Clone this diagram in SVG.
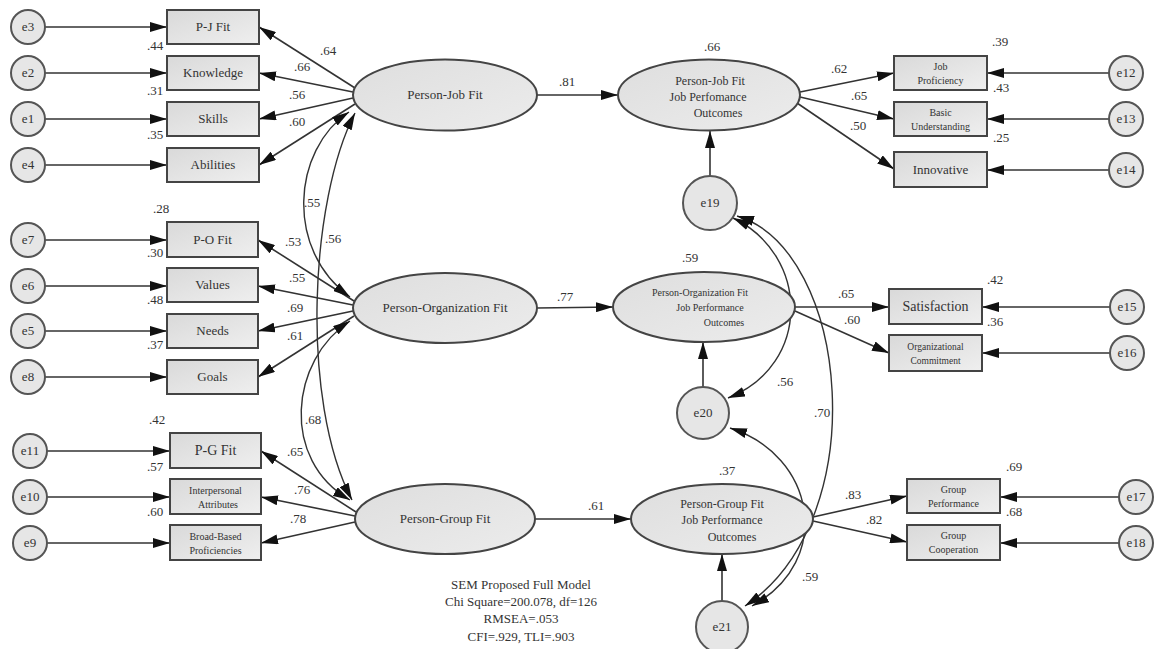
<svg xmlns="http://www.w3.org/2000/svg" width="1158" height="649" viewBox="0 0 1158 649">
  <defs>
    <linearGradient id="fillBox" x1="0" y1="0" x2="1" y2="1">
      <stop offset="0" stop-color="#d9d9d9"/>
      <stop offset="1" stop-color="#efefef"/>
    </linearGradient>
    <linearGradient id="fillEll" x1="0" y1="0" x2="1" y2="1">
      <stop offset="0" stop-color="#dedede"/>
      <stop offset="1" stop-color="#ececec"/>
    </linearGradient>
    <marker id="ah" viewBox="0 0 17 10" refX="17" refY="5" markerWidth="17" markerHeight="10" markerUnits="userSpaceOnUse" orient="auto-start-reverse">
      <path d="M0,0 L17,5 L0,10 z" fill="#111"/>
    </marker>
    <style>
      .box { fill: url(#fillBox); stroke: #444; stroke-width: 2; }
      .lat { fill: url(#fillEll); stroke: #444; stroke-width: 2; }
      .err { fill: #e6e6e6; stroke: #555; stroke-width: 2; }
      .t { font-family: "Liberation Serif", "Times New Roman", serif; fill: #333; text-anchor: middle; }
      .lb { font-size: 13px; }
      .sm { font-size: 10px; }
      .xs { font-size: 9.5px; }
      .nm { font-family: "Liberation Serif", "Times New Roman", serif; fill: #333; font-size: 13px; text-anchor: middle; }
      .ln { fill: none; stroke: #333; stroke-width: 1.6; marker-end: url(#ah); }
      .cv { fill: none; stroke: #333; stroke-width: 1.4; marker-start: url(#ah); marker-end: url(#ah); }
    </style>
  </defs>

  <rect width="1158" height="649" fill="#ffffff"/>

  <!-- connectors -->
  <g id="connectors">
    <!-- error terms to indicators, left -->
    <line class="ln" x1="45" y1="27" x2="167" y2="27"/>
    <line class="ln" x1="45" y1="73" x2="167" y2="73"/>
    <line class="ln" x1="45" y1="119" x2="167" y2="119"/>
    <line class="ln" x1="45" y1="165" x2="167" y2="165"/>
    <line class="ln" x1="45" y1="240" x2="167" y2="240"/>
    <line class="ln" x1="45" y1="286" x2="167" y2="286"/>
    <line class="ln" x1="45" y1="331" x2="167" y2="331"/>
    <line class="ln" x1="45" y1="377" x2="167" y2="377"/>
    <line class="ln" x1="47" y1="451" x2="170" y2="451"/>
    <line class="ln" x1="47" y1="497" x2="170" y2="497"/>
    <line class="ln" x1="47" y1="543" x2="170" y2="543"/>

    <!-- latent fits to indicators -->
    <line class="ln" x1="355" y1="88" x2="259" y2="27"/>
    <line class="ln" x1="353" y1="92" x2="259" y2="73"/>
    <line class="ln" x1="353" y1="98" x2="259" y2="119"/>
    <line class="ln" x1="355" y1="104" x2="259" y2="165"/>
    <line class="ln" x1="354" y1="301" x2="258" y2="240"/>
    <line class="ln" x1="353" y1="305" x2="258" y2="286"/>
    <line class="ln" x1="353" y1="311" x2="258" y2="331"/>
    <line class="ln" x1="354" y1="316" x2="258" y2="377"/>
    <line class="ln" x1="356" y1="512" x2="261" y2="451"/>
    <line class="ln" x1="355" y1="516" x2="261" y2="497"/>
    <line class="ln" x1="355" y1="522" x2="261" y2="543"/>

    <!-- covariances among fits -->
    <path class="cv" d="M350,297 C285,250 292,150 349,112"/>
    <path class="cv" d="M352,500 C300,400 310,200 355,113"/>
    <path class="cv" d="M350,321 C290,360 280,460 350,500"/>

    <!-- structural paths -->
    <line class="ln" x1="537" y1="95" x2="618" y2="95"/>
    <line class="ln" x1="537" y1="308" x2="613" y2="307"/>
    <line class="ln" x1="535" y1="519" x2="631" y2="519"/>
    <line class="ln" x1="710" y1="176" x2="710" y2="131"/>
    <line class="ln" x1="703" y1="387" x2="703" y2="342"/>
    <line class="ln" x1="722" y1="601" x2="722" y2="554"/>

    <!-- outcomes to indicators -->
    <line class="ln" x1="800" y1="92" x2="894" y2="73"/>
    <line class="ln" x1="800" y1="97" x2="894" y2="119"/>
    <line class="ln" x1="797" y1="103" x2="894" y2="169"/>
    <line class="ln" x1="795" y1="307" x2="889" y2="307"/>
    <line class="ln" x1="795" y1="311" x2="889" y2="353"/>
    <line class="ln" x1="813" y1="517" x2="907" y2="496"/>
    <line class="ln" x1="813" y1="521" x2="907" y2="542"/>

    <!-- error terms to indicators, right -->
    <line class="ln" x1="1109" y1="73" x2="987" y2="73"/>
    <line class="ln" x1="1109" y1="119" x2="987" y2="119"/>
    <line class="ln" x1="1109" y1="170" x2="987" y2="170"/>
    <line class="ln" x1="1110" y1="307" x2="982" y2="307"/>
    <line class="ln" x1="1110" y1="353" x2="982" y2="353"/>
    <line class="ln" x1="1119" y1="497" x2="1000" y2="497"/>
    <line class="ln" x1="1119" y1="543" x2="1000" y2="543"/>

    <!-- covariances among disturbances -->
    <path class="cv" d="M733,218 C810,255 812,365 728,398"/>
    <path class="cv" d="M737,216 C850,250 875,520 745,606"/>
    <path class="cv" d="M730,428 C815,455 835,560 752,606"/>
  </g>

  <!-- left error terms -->
  <g id="e3"><circle class="err" cx="28" cy="27" r="17"/><text class="t lb" x="28" y="31">e3</text></g>
  <g id="e2"><circle class="err" cx="28" cy="73" r="17"/><text class="t lb" x="28" y="77">e2</text></g>
  <g id="e1"><circle class="err" cx="28" cy="119" r="17"/><text class="t lb" x="28" y="123">e1</text></g>
  <g id="e4"><circle class="err" cx="28" cy="165" r="17"/><text class="t lb" x="28" y="169">e4</text></g>
  <g id="e7"><circle class="err" cx="28" cy="240" r="17"/><text class="t lb" x="28" y="244">e7</text></g>
  <g id="e6"><circle class="err" cx="28" cy="286" r="17"/><text class="t lb" x="28" y="290">e6</text></g>
  <g id="e5"><circle class="err" cx="28" cy="331" r="17"/><text class="t lb" x="28" y="335">e5</text></g>
  <g id="e8"><circle class="err" cx="28" cy="377" r="17"/><text class="t lb" x="28" y="381">e8</text></g>
  <g id="e11"><circle class="err" cx="30" cy="451" r="17"/><text class="t lb" x="30" y="455">e11</text></g>
  <g id="e10"><circle class="err" cx="30" cy="497" r="17"/><text class="t lb" x="30" y="501">e10</text></g>
  <g id="e9"><circle class="err" cx="30" cy="543" r="17"/><text class="t lb" x="30" y="547">e9</text></g>

  <!-- left indicators -->
  <g id="pj-fit-box"><rect class="box" x="167" y="10" width="92" height="34"/><text class="t lb" x="213" y="31">P-J Fit</text></g>
  <g id="knowledge"><rect class="box" x="167" y="56" width="92" height="34"/><text class="t lb" x="213" y="77">Knowledge</text></g>
  <g id="skills"><rect class="box" x="167" y="102" width="92" height="34"/><text class="t lb" x="213" y="123">Skills</text></g>
  <g id="abilities"><rect class="box" x="167" y="148" width="92" height="34"/><text class="t lb" x="213" y="169">Abilities</text></g>
  <g id="po-fit-box"><rect class="box" x="167" y="222" width="91" height="35"/><text class="t lb" x="212.5" y="244">P-O Fit</text></g>
  <g id="values"><rect class="box" x="167" y="268" width="91" height="34"/><text class="t lb" x="212.5" y="289">Values</text></g>
  <g id="needs"><rect class="box" x="167" y="314" width="91" height="34"/><text class="t lb" x="212.5" y="335">Needs</text></g>
  <g id="goals"><rect class="box" x="167" y="360" width="91" height="34"/><text class="t lb" x="212.5" y="381">Goals</text></g>
  <g id="pg-fit-box"><rect class="box" x="170" y="433" width="91" height="35"/><text class="t" style="font-size:14px" x="215.5" y="455">P-G Fit</text></g>
  <g id="interpersonal"><rect class="box" x="170" y="479" width="91" height="35"/><text class="t sm" x="215.5" y="494">Interpersonal</text><text class="t sm" x="218" y="508">Attributes</text></g>
  <g id="broad-based"><rect class="box" x="170" y="525" width="91" height="35"/><text class="t sm" x="215.5" y="540">Broad-Based</text><text class="t sm" x="215.5" y="554">Proficiencies</text></g>

  <!-- latent fits -->
  <g id="person-job-fit"><ellipse class="lat" cx="445" cy="95" rx="92" ry="35.5"/><text class="t lb" x="445" y="99">Person-Job Fit</text></g>
  <g id="person-organization-fit"><ellipse class="lat" cx="445" cy="308" rx="92" ry="35"/><text class="t lb" x="445" y="312">Person-Organization Fit</text></g>
  <g id="person-group-fit"><ellipse class="lat" cx="445" cy="519" rx="90" ry="35"/><text class="t lb" x="445" y="523">Person-Group Fit</text></g>

  <!-- outcome latents -->
  <g id="pj-outcomes"><ellipse class="lat" cx="709" cy="95" rx="91" ry="35.5"/>
    <text class="t" style="font-size:12px" x="710" y="85">Person-Job Fit</text>
    <text class="t" style="font-size:12px" x="708" y="101">Job Perfomance</text>
    <text class="t" style="font-size:12px" x="718" y="117">Outcomes</text></g>
  <g id="po-outcomes"><ellipse class="lat" cx="704" cy="307" rx="91" ry="35"/>
    <text class="t sm" x="700" y="296">Person-Organization Fit</text>
    <text class="t sm" x="710" y="311">Job Performance</text>
    <text class="t sm" x="724" y="326">Outcomes</text></g>
  <g id="pg-outcomes"><ellipse class="lat" cx="722" cy="519" rx="91" ry="35"/>
    <text class="t" style="font-size:12px" x="722" y="508">Person-Group Fit</text>
    <text class="t" style="font-size:12px" x="722" y="524">Job Performance</text>
    <text class="t" style="font-size:12px" x="732" y="541">Outcomes</text></g>

  <!-- disturbances -->
  <g id="e19"><circle class="err" cx="710" cy="203" r="27"/><text class="t lb" x="710" y="207">e19</text></g>
  <g id="e20"><circle class="err" cx="703" cy="413" r="26"/><text class="t lb" x="703" y="417">e20</text></g>
  <g id="e21"><circle class="err" cx="722" cy="627" r="26"/><text class="t lb" x="722" y="631">e21</text></g>

  <!-- right indicators -->
  <g id="job-proficiency"><rect class="box" x="894" y="56" width="93" height="34"/><text class="t sm" x="940.5" y="70">Job</text><text class="t sm" x="940.5" y="84">Proficiency</text></g>
  <g id="basic-understanding"><rect class="box" x="894" y="102" width="93" height="34"/><text class="t sm" x="940.5" y="116">Basic</text><text class="t sm" x="940.5" y="130">Understanding</text></g>
  <g id="innovative"><rect class="box" x="894" y="152" width="93" height="35"/><text class="t lb" x="940.5" y="174">Innovative</text></g>
  <g id="satisfaction"><rect class="box" x="889" y="289" width="93" height="35"/><text class="t" style="font-size:14px" x="935.5" y="311">Satisfaction</text></g>
  <g id="org-commitment"><rect class="box" x="889" y="335" width="93" height="36"/><text class="t xs" x="935.5" y="350">Organizational</text><text class="t xs" x="935.5" y="364">Commitment</text></g>
  <g id="group-performance"><rect class="box" x="907" y="479" width="93" height="34"/><text class="t sm" x="953.5" y="493">Group</text><text class="t sm" x="953.5" y="507">Performance</text></g>
  <g id="group-cooperation"><rect class="box" x="907" y="525" width="93" height="35"/><text class="t sm" x="953.5" y="539">Group</text><text class="t sm" x="953.5" y="553">Cooperation</text></g>

  <!-- right error terms -->
  <g id="e12"><circle class="err" cx="1126" cy="73" r="17"/><text class="t lb" x="1126" y="77">e12</text></g>
  <g id="e13"><circle class="err" cx="1126" cy="119" r="17"/><text class="t lb" x="1126" y="123">e13</text></g>
  <g id="e14"><circle class="err" cx="1126" cy="170" r="17"/><text class="t lb" x="1126" y="174">e14</text></g>
  <g id="e15"><circle class="err" cx="1127" cy="307" r="17"/><text class="t lb" x="1127" y="311">e15</text></g>
  <g id="e16"><circle class="err" cx="1127" cy="353" r="17"/><text class="t lb" x="1127" y="357">e16</text></g>
  <g id="e17"><circle class="err" cx="1136" cy="497" r="17"/><text class="t lb" x="1136" y="501">e17</text></g>
  <g id="e18"><circle class="err" cx="1136" cy="543" r="17"/><text class="t lb" x="1136" y="547">e18</text></g>

  <!-- estimates -->
  <g id="estimates">
    <text class="nm" x="155" y="50">.44</text>
    <text class="nm" x="155" y="95">.31</text>
    <text class="nm" x="155" y="139">.35</text>
    <text class="nm" x="328" y="55">.64</text>
    <text class="nm" x="302" y="71">.66</text>
    <text class="nm" x="297" y="99">.56</text>
    <text class="nm" x="297" y="126">.60</text>

    <text class="nm" x="161" y="213">.28</text>
    <text class="nm" x="155" y="257">.30</text>
    <text class="nm" x="155" y="304">.48</text>
    <text class="nm" x="155" y="349">.37</text>
    <text class="nm" x="293" y="246">.53</text>
    <text class="nm" x="297" y="282">.55</text>
    <text class="nm" x="295" y="312">.69</text>
    <text class="nm" x="295" y="340">.61</text>

    <text class="nm" x="157" y="424">.42</text>
    <text class="nm" x="155" y="471">.57</text>
    <text class="nm" x="155" y="516">.60</text>
    <text class="nm" x="295" y="456">.65</text>
    <text class="nm" x="302" y="494">.76</text>
    <text class="nm" x="298" y="523">.78</text>

    <text class="nm" x="312" y="207">.55</text>
    <text class="nm" x="333" y="243">.56</text>
    <text class="nm" x="313" y="424">.68</text>

    <text class="nm" x="567" y="86">.81</text>
    <text class="nm" x="565" y="301">.77</text>
    <text class="nm" x="596" y="510">.61</text>
    <text class="nm" x="712" y="51">.66</text>
    <text class="nm" x="690" y="262">.59</text>
    <text class="nm" x="727" y="475">.37</text>

    <text class="nm" x="839" y="73">.62</text>
    <text class="nm" x="859" y="100">.65</text>
    <text class="nm" x="858" y="130">.50</text>
    <text class="nm" x="1000" y="46">.39</text>
    <text class="nm" x="1001" y="92">.43</text>
    <text class="nm" x="1001" y="142">.25</text>

    <text class="nm" x="846" y="298">.65</text>
    <text class="nm" x="852" y="324">.60</text>
    <text class="nm" x="995" y="284">.42</text>
    <text class="nm" x="995" y="326">.36</text>

    <text class="nm" x="853" y="499">.83</text>
    <text class="nm" x="874" y="524">.82</text>
    <text class="nm" x="1014" y="471">.69</text>
    <text class="nm" x="1014" y="516">.68</text>

    <text class="nm" x="785" y="386">.56</text>
    <text class="nm" x="822" y="417">.70</text>
    <text class="nm" x="810" y="581">.59</text>
  </g>

  <!-- fit summary -->
  <g id="fit-summary">
    <text class="nm" x="521" y="589">SEM Proposed Full Model</text>
    <text class="nm" x="521" y="606">Chi Square=200.078, df=126</text>
    <text class="nm" x="521" y="623">RMSEA=.053</text>
    <text class="nm" x="521" y="641">CFI=.929, TLI=.903</text>
  </g>
</svg>
